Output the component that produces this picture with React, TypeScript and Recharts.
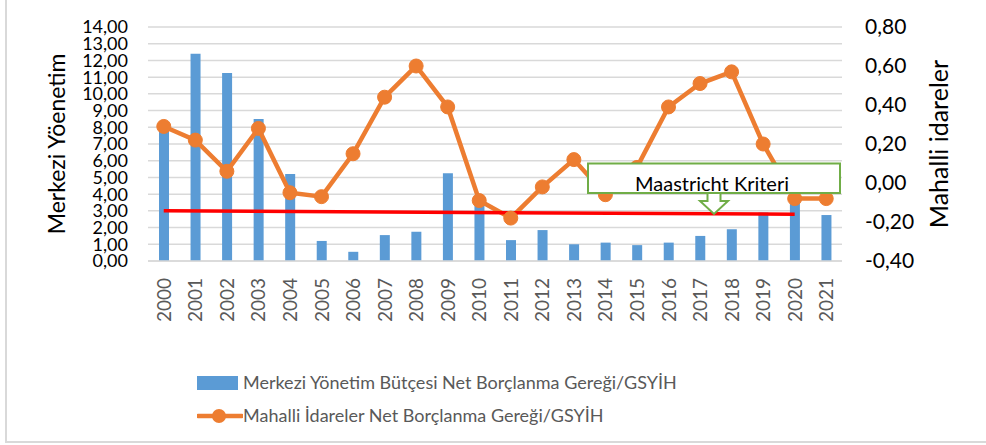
import React from "react"
import {
  ComposedChart,
  Bar,
  Line,
  XAxis,
  YAxis,
  CartesianGrid,
  Legend,
  ReferenceLine,
} from "recharts"

const years = [
  "2000", "2001", "2002", "2003", "2004", "2005", "2006", "2007", "2008", "2009", "2010",
  "2011", "2012", "2013", "2014", "2015", "2016", "2017", "2018", "2019", "2020", "2021",
]
// Merkezi Yönetim Bütçesi Net Borçlanma Gereği/GSYİH (sol eksen)
const merkezi = [
  8.0, 12.4, 11.25, 8.5, 5.2, 1.2, 0.55, 1.55, 1.75, 5.25, 3.5,
  1.25, 1.85, 1.0, 1.1, 0.95, 1.1, 1.5, 1.9, 2.9, 3.7, 2.75,
]
// Mahalli İdareler Net Borçlanma Gereği/GSYİH (sağ eksen)
const mahalli = [
  0.29, 0.22, 0.06, 0.28, -0.05, -0.07, 0.15, 0.44, 0.6, 0.39, -0.09,
  -0.18, -0.02, 0.12, -0.06, 0.08, 0.39, 0.51, 0.57, 0.2, -0.08, -0.08,
]
const leftTicks = [0, 1, 2, 3, 4, 5, 6, 7, 8, 9, 10, 11, 12, 13, 14]
const rightTicks = [-0.4, -0.2, 0, 0.2, 0.4, 0.6, 0.8]
// Maastricht kriteri çizgisi (sol eksen)
const kriterStart = { x: "2000", y: 3.0 }
const kriterEnd = { x: "2020", y: 2.8 }

const barName = "Merkezi Yönetim Bütçesi Net Borçlanma Gereği/GSYİH"
const lineName = "Mahalli İdareler Net Borçlanma Gereği/GSYİH"

const data = years.map((year, i) => ({ year, merkezi: merkezi[i], mahalli: mahalli[i] }))

const FONT = "Lato, 'Open Sans', sans-serif"
const fmt = (v: number) => v.toFixed(2).replace(".", ",")

const YearTick = ({ x, y, payload }: any) => (
  <text
    x={x}
    y={y}
    transform={`rotate(-90, ${x}, ${y})`}
    dx={-9}
    dy={7}
    textAnchor="end"
    fill="#595959"
    fontSize={19}
    fontFamily={FONT}
  >
    {payload.value}
  </text>
)

const LegendContent = () => (
  <div style={{ fontFamily: FONT, fontSize: 18, color: "#595959", lineHeight: "33px" }}>
    <div style={{ display: "flex", alignItems: "center" }}>
      <span style={{ display: "inline-block", width: 41, height: 14, background: "#5B9BD5", marginRight: 5 }} />
      {barName}
    </div>
    <div style={{ display: "flex", alignItems: "center" }}>
      <svg width={46} height={16}>
        <line x1={1} y1={8} x2={45} y2={8} stroke="#ED7D31" strokeWidth={4.5} strokeLinecap="round" />
        <circle cx={22} cy={8} r={7} fill="#ED7D31" />
      </svg>
      {lineName}
    </div>
  </div>
)

const App = () => {
  return (
    <div style={{ position: "fixed", left: 0, top: 0, width: 986, height: 445, background: "#fff" }}>
      <div
        style={{
          position: "absolute",
          left: 5,
          top: -4,
          width: 990,
          height: 445,
          borderLeft: "2px solid #D9D9D9",
          borderBottom: "2px solid #D9D9D9",
        }}
      />
      <ComposedChart
        width={986}
        height={445}
        data={data}
        margin={{ top: 27, right: 0, left: 0, bottom: 0 }}
        style={{ fontFamily: FONT }}
      >
        <CartesianGrid yAxisId="left" vertical={false} stroke="#D9D9D9" strokeWidth={1.5} />
        <XAxis
          dataKey="year"
          height={184}
          interval={0}
          tick={<YearTick />}
          tickLine={false}
          axisLine={{ stroke: "#D9D9D9", strokeWidth: 1.5 }}
        />
        <YAxis
          yAxisId="left"
          width={148}
          domain={[0, 14]}
          ticks={leftTicks}
          interval={0}
          tickFormatter={fmt}
          axisLine={false}
          tickLine={false}
          tickSize={0}
          tickMargin={20}
          tick={{ fill: "#000", fontSize: 18, fontFamily: FONT }}
          label={{
            value: "Merkezi Yöenetim",
            angle: -90,
            position: "insideLeft",
            offset: 0,
            dx: 57,
            style: { textAnchor: "middle", fill: "#000", fontSize: 23, fontFamily: FONT },
          }}
        />
        <YAxis
          yAxisId="right"
          orientation="right"
          width={144}
          domain={[-0.4, 0.8]}
          ticks={rightTicks}
          interval={0}
          tickFormatter={fmt}
          axisLine={false}
          tickLine={false}
          tickSize={0}
          tickMargin={23}
          tick={{ fill: "#000", fontSize: 21, fontFamily: FONT }}
          label={{
            value: "Mahalli idareler",
            angle: -90,
            position: "insideRight",
            offset: 0,
            dx: -47,
            style: { textAnchor: "middle", fill: "#000", fontSize: 25, fontFamily: FONT },
          }}
        />
        <Bar
          yAxisId="left"
          dataKey="merkezi"
          name={barName}
          fill="#5B9BD5"
          barSize={10}
          isAnimationActive={false}
        />
        <Line
          yAxisId="right"
          dataKey="mahalli"
          name={lineName}
          stroke="#ED7D31"
          strokeWidth={4.5}
          dot={{ r: 7, fill: "#ED7D31", stroke: "#ED7D31", strokeWidth: 1 }}
          activeDot={false}
          isAnimationActive={false}
        />
        <ReferenceLine
          yAxisId="left"
          segment={[kriterStart, kriterEnd]}
          stroke="#FF0000"
          strokeWidth={3.5}
          ifOverflow="visible"
        />
        <Legend
          layout="vertical"
          align="center"
          verticalAlign="middle"
          wrapperStyle={{ left: 197, top: 366, width: 620 }}
          content={<LegendContent />}
        />
      </ComposedChart>
      <svg
        width={986}
        height={445}
        style={{ position: "absolute", left: 0, top: 0, pointerEvents: "none" }}
      >
        <rect x={588} y={163.5} width={252} height={29.5} fill="#fff" stroke="#70AD47" strokeWidth={2} />
        <text x={712} y={191} textAnchor="middle" fontSize={20} fontFamily={FONT} fill="#000">
          Maastricht Kriteri
        </text>
        <path
          d="M707.5,193 L720.5,193 L720.5,201 L728,201 L714,214 L700,201 L707.5,201 Z"
          fill="#fff"
          stroke="#70AD47"
          strokeWidth={2}
        />
      </svg>
    </div>
  )
}

export default App
